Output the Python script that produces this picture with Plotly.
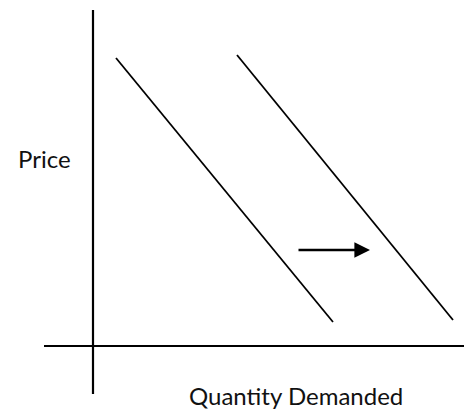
import plotly.graph_objects as go

# Conceptual demand-shift diagram (origin at the axes crossing)
demand1_q = [23, 240]
demand1_p = [288, 24]
demand2_q = [144, 360]
demand2_p = [291, 26]
vaxis_q = [0, 0]
vaxis_p = [-48, 336]
haxis_q = [-49, 371]
haxis_p = [0, 0]
shift_from = (204, 96)
shift_to = (277, 96)
y_label = "Price"
x_label = "Quantity Demanded"

fig = go.Figure()
for q, p, w in [(vaxis_q, vaxis_p, 2.2), (haxis_q, haxis_p, 2.2),
                (demand1_q, demand1_p, 1.8), (demand2_q, demand2_p, 1.8)]:
    fig.add_trace(go.Scatter(x=q, y=p, mode="lines",
                             line=dict(color="black", width=w),
                             hoverinfo="skip", showlegend=False))

fig.add_annotation(x=shift_to[0], y=shift_to[1], ax=shift_from[0], ay=shift_from[1],
                   xref="x", yref="y", axref="x", ayref="y", text="",
                   showarrow=True, arrowhead=2, arrowsize=1.3, arrowwidth=2.4,
                   arrowcolor="black", standoff=0, startstandoff=0)

fig.add_annotation(x=-49, y=188, xref="x", yref="y", text=y_label, showarrow=False,
                   font=dict(family="Lato", size=24, color="#111"),
                   xanchor="center", yanchor="middle")
fig.add_annotation(x=203, y=-49, xref="x", yref="y", text=x_label, showarrow=False,
                   font=dict(family="Lato", size=24, color="#111"),
                   xanchor="center", yanchor="middle")

fig.update_layout(
    width=466, height=410,
    margin=dict(l=0, r=0, t=0, b=0),
    paper_bgcolor="white", plot_bgcolor="white",
    xaxis=dict(range=[-93, 373], visible=False, fixedrange=True),
    yaxis=dict(range=[-64, 346], visible=False, fixedrange=True),
)
fig.write_html("out.html", config={"displayModeBar": False},
               post_script="document.body.style.margin='0px';document.body.style.overflow='hidden';")
